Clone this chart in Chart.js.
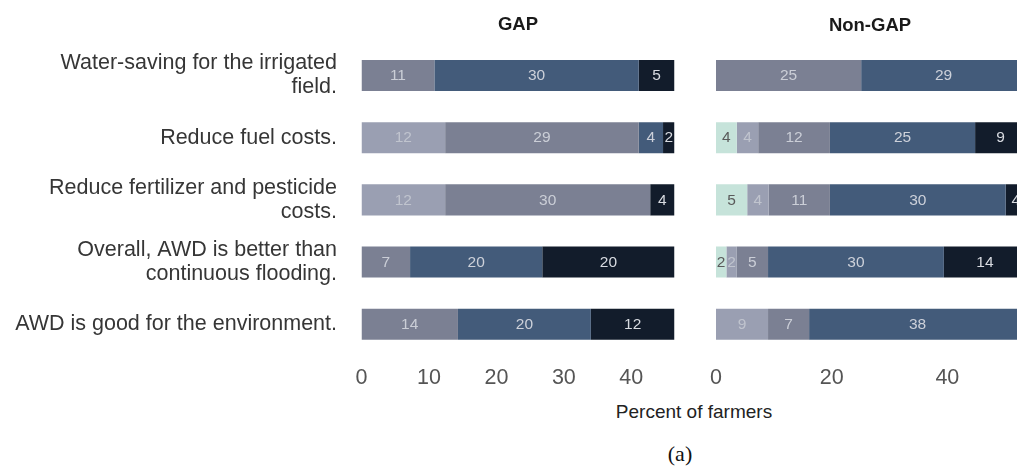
<!DOCTYPE html>
<html>
<head>
<meta charset="utf-8">
<script src="https://cdn.jsdelivr.net/npm/chart.js@4.4.1/dist/chart.umd.min.js"></script>
<style>
  html, body { margin:0; padding:0; background:#fff; overflow:hidden; width:1017px; height:469px; }
  #wrap { position:relative; width:1017px; height:469px; overflow:hidden; }
  canvas { position:absolute; top:0; }
  .t { position:absolute; transform:translate(-50%,-50%); line-height:1; white-space:nowrap; font-family:"Liberation Sans", Arial, sans-serif; }
</style>
</head>
<body>
<div id="wrap">
  <canvas id="gap" width="690" height="400" style="left:0;width:690px;height:400px;"></canvas>
  <canvas id="nongap" width="340" height="400" style="left:700px;width:340px;height:400px;"></canvas>
  <div class="t" style="left:518px;top:24px;font-size:18.5px;font-weight:bold;color:#1a1a1a;">GAP</div>
  <div class="t" style="left:870px;top:25px;font-size:18.5px;font-weight:bold;color:#1a1a1a;">Non-GAP</div>
  <div class="t" style="left:694px;top:411px;font-size:19px;color:#222;">Percent of farmers</div>
  <div class="t" style="left:680px;top:454px;font-size:22px;color:#111;font-family:'Liberation Serif','Times New Roman',serif;">(a)</div>
</div>
<script>
// ---- data ----
const categories = [
  ["Water-saving for the irrigated", "field."],
  ["Reduce fuel costs."],
  ["Reduce fertilizer and pesticide", "costs."],
  ["Overall, AWD is better than", "continuous flooding."],
  ["AWD is good for the environment."]
];
const levels = ["Strongly disagree", "Disagree", "Neutral", "Agree", "Strongly agree"];

// GAP group (percent of all farmers)
const gapStronglyDisagree = [0, 0, 0, 0, 0];
const gapDisagree         = [0, 12.4, 12.4, 0, 0];
const gapNeutral          = [10.8, 28.7, 30.4, 7.2, 14.3];
const gapAgree            = [30.3, 3.6, 0, 19.6, 19.7];
const gapStronglyAgree    = [5.3, 1.7, 3.6, 19.6, 12.4];

// Non-GAP group
const nonStronglyDisagree = [0, 3.6, 5.4, 1.8, 0];
const nonDisagree         = [0, 3.7, 3.7, 1.8, 9.0];
const nonNeutral          = [25.1, 12.4, 10.6, 5.4, 7.1];
const nonAgree            = [28.5, 25.1, 30.4, 30.4, 37.5];
const nonStronglyAgree    = [0, 8.8, 3.5, 14.2, 0];

const gapTicks = [0, 10, 20, 30, 40];
const nonTicks = [0, 20, 40];

// ---- styles ----
const colors = ["#c6e3da", "#9a9fb2", "#7b8093", "#435b7a", "#121c2b"];
const labelColors = ["#5a5a5a", "#c0c4ce", "#cbced7", "#cdd1da", "#d8dbe1"];
const FONT = "'Liberation Sans', Arial, sans-serif";

function rowMax(series) {
  let m = 0;
  for (let i = 0; i < categories.length; i++) {
    let s = 0; series.forEach(a => s += a[i]); m = Math.max(m, s);
  }
  return m;
}

const segLabels = {
  id: 'segLabels',
  afterDatasetsDraw(chart) {
    const ctx = chart.ctx;
    ctx.save();
    ctx.font = "15.5px " + FONT;
    ctx.textAlign = 'center';
    ctx.textBaseline = 'middle';
    chart.data.datasets.forEach((ds, di) => {
      const meta = chart.getDatasetMeta(di);
      meta.data.forEach((el, i) => {
        const v = ds.data[i];
        if (!v) return;
        const p = el.getProps(['x', 'y', 'base'], true);
        ctx.fillStyle = labelColors[di];
        ctx.fillText(String(Math.round(v)), (p.x + p.base) / 2, p.y + 0.5);
      });
    });
    ctx.restore();
  }
};

function makeChart(id, series, ticks, showY, padL, padR) {
  const max = rowMax(series);
  return new Chart(document.getElementById(id), {
    type: 'bar',
    data: {
      labels: categories,
      datasets: series.map((d, i) => ({
        label: levels[i], data: d, backgroundColor: colors[i], borderWidth: 0,
        barPercentage: 0.5, categoryPercentage: 1
      }))
    },
    options: {
      indexAxis: 'y',
      responsive: false,
      animation: false,
      devicePixelRatio: 1,
      layout: { padding: { left: padL, right: padR, top: 44.4, bottom: 4.7 } },
      plugins: { legend: { display: false }, tooltip: { enabled: false } },
      scales: {
        x: {
          stacked: true, min: 0, max: max,
          grid: { display: false, drawTicks: false }, border: { display: false },
          afterBuildTicks: s => { s.ticks = ticks.map(v => ({ value: v })); },
          afterFit: s => { s.height = 40; },
          ticks: { padding: 10, color: '#555', font: { family: FONT, size: 21.5 } }
        },
        y: {
          stacked: true, display: showY,
          grid: { display: false, drawTicks: false }, border: { display: false },
          afterFit: s => {
            s.width = showY ? 361.5 : 0;
            s.paddingTop = 0; s.paddingBottom = 0;
          },
          ticks: { padding: 24.5, color: '#363636', font: { family: FONT, size: 21.5, lineHeight: 1.12 } }
        }
      }
    },
    plugins: [segLabels]
  });
}

makeChart('gap',
  [gapStronglyDisagree, gapDisagree, gapNeutral, gapAgree, gapStronglyAgree],
  gapTicks, true, 0, 15.5);
makeChart('nongap',
  [nonStronglyDisagree, nonDisagree, nonNeutral, nonAgree, nonStronglyAgree],
  nonTicks, false, 13.3, 14);
</script>
</body>
</html>
